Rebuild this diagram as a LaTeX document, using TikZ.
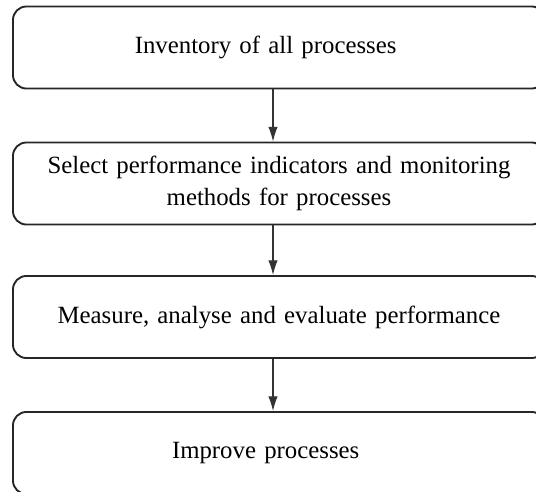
\documentclass[tikz,border=0pt]{standalone}
\usepackage{fontspec}
\setmainfont{Liberation Serif}
\usepackage{tikz}
\usetikzlibrary{positioning,arrows.meta}

\begin{document}
\begin{tikzpicture}[x=0.75pt,y=-0.75pt,
    stagebox/.style={draw=black!85,line width=1.4pt,rounded corners=10pt,
      minimum width=399pt,minimum height=61.5pt,text width=380pt,align=center,
      inner sep=0pt,font=\fontsize{18.6}{24.5}\selectfont},
    flow/.style={draw=black!80,line width=0.8pt,-{Latex[length=11pt,width=7pt]}}]
  % canvas
  \useasboundingbox (0,0) rectangle (536,492);
  \clip (0,0) rectangle (536,492);
  % stages
  \node[stagebox] (inv) at (279,47.5) {\hspace*{-20pt}Inventory of all processes};
  \node[stagebox] (sel) at (279,183.5) {Select performance indicators and monitoring\\methods for processes};
  \node[stagebox] (meas) at (279,317) {Measure, analyse and evaluate performance};
  \node[stagebox] (impr) at (279,453) {\hspace*{-20pt}Improve processes};
  % arrows down the middle
  \coordinate (spine) at (273,0);
  \draw[flow] (inv.south -| spine) -- (sel.north -| spine);
  \draw[flow] (sel.south -| spine) -- (meas.north -| spine);
  \draw[flow] (meas.south -| spine) -- (impr.north -| spine);
\end{tikzpicture}
\end{document}
